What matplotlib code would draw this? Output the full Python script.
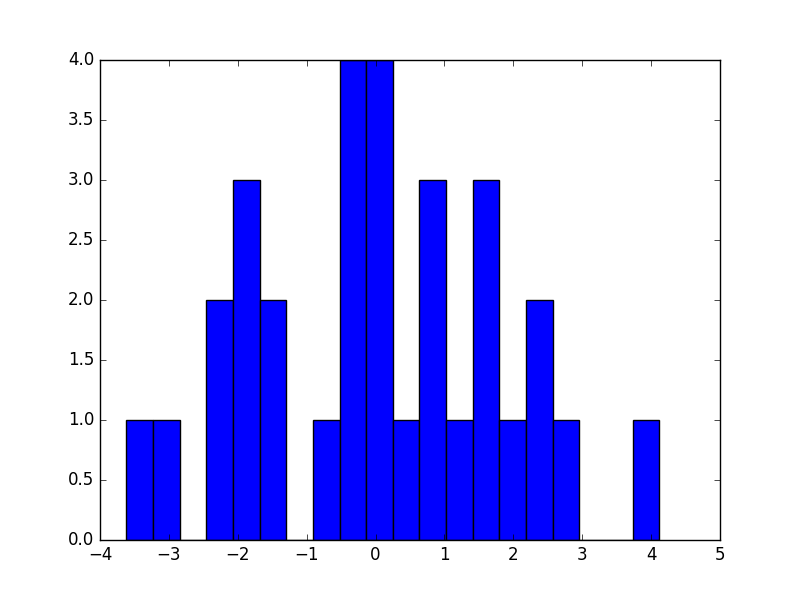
import numpy as np
import matplotlib
matplotlib.use("Agg")
import matplotlib.pyplot as plt

plt.style.use('classic')

data_min = -3.617
data_max = 4.119
counts = [1, 1, 0, 2, 3, 2, 0, 1, 4, 4, 1, 3, 1, 3, 1, 2, 1, 0, 0, 1]

edges = np.linspace(data_min, data_max, len(counts) + 1)

fig, ax = plt.subplots(figsize=(8, 6), dpi=100)
ax.hist(edges[:-1], bins=edges, weights=counts, color='b', edgecolor='k')
ax.set_xlim(-4, 5)
ax.set_ylim(0, 4)
fig.savefig('out.png', dpi=100, facecolor='white')
